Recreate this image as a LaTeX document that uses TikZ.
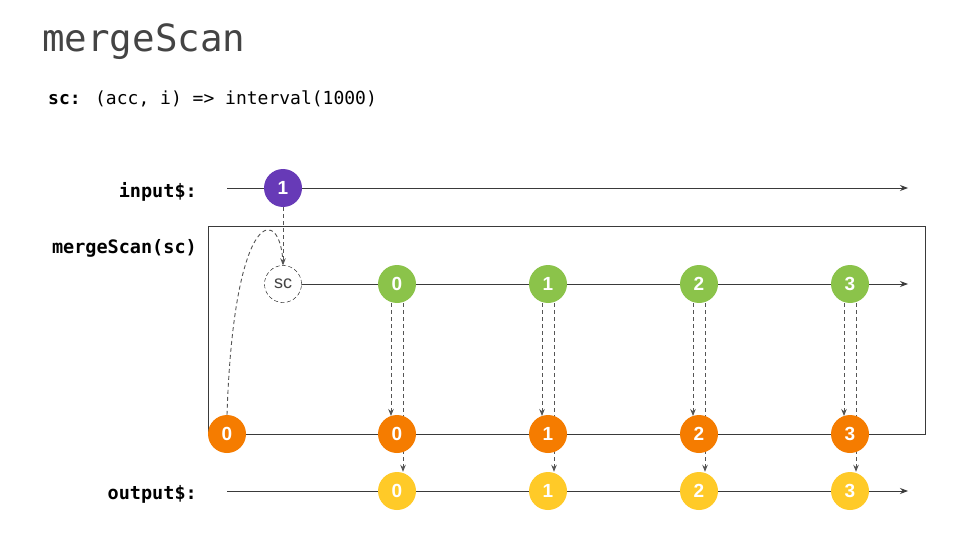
\documentclass[tikz,border=0pt]{standalone}
\usepackage{fontspec}
\setmainfont{Liberation Sans}
\newfontfamily\monof{DejaVu Sans Mono}
\usetikzlibrary{arrows.meta}
\definecolor{linec}{HTML}{3A3A3A}
\definecolor{titlec}{HTML}{444444}
\definecolor{purplem}{HTML}{673AB7}
\definecolor{greenm}{HTML}{8BC34A}
\definecolor{orangem}{HTML}{F57C00}
\definecolor{yellowm}{HTML}{FFCA28}
\definecolor{dashc}{HTML}{555555}
\tikzset{
  marble/.style={circle, minimum size=38pt, inner sep=0pt, text=white,
    font=\bfseries\fontsize{19}{19}\selectfont},
  pm/.style={marble, fill=purplem},
  gm/.style={marble, fill=greenm},
  om/.style={marble, fill=orangem},
  ym/.style={marble, fill=yellowm},
  scnode/.style={circle, draw=black, dashed, dash pattern=on 4pt off 2.5pt, fill=white,
    minimum size=37pt, inner sep=0pt, text=titlec, font=\fontsize{18}{18}\selectfont},
  tl/.style={draw=linec, line width=1pt},
  tlarrow/.style={tl, -{Stealth[length=8pt,width=6pt]}},
  dl/.style={draw=dashc, line width=0.9pt, dash pattern=on 4pt off 3pt},
  dlarrow/.style={dl, -{Stealth[length=7pt,width=5.5pt]}},
  lbl/.style={anchor=base east, inner sep=0pt, text=black,
    font=\monof\bfseries\fontsize{18.5}{18.5}\selectfont}
}
\begin{document}
\begin{tikzpicture}[x=1pt,y=-1pt]
\useasboundingbox[fill=white] (0,0) rectangle (960,540);

\node[anchor=base west, inner sep=0pt, text=titlec, font=\monof\fontsize{37.5}{37.5}\selectfont] (title) at (42,52) {mergeScan};
\node[anchor=base west, inner sep=0pt, text=black, font=\monof\fontsize{18}{18}\selectfont] (code) at (48,105) {\textbf{sc:} (acc, i) => interval(1000)};

\node[lbl] (linput) at (197,197) {input\$:};
\node[lbl] (lmerge) at (197,253) {mergeScan(sc)};
\node[lbl] (loutput) at (197,499) {output\$:};

% box
\draw[tl] (208,226) rectangle (925,434);

% coordinates for line ends
\coordinate (inS) at (227,188);
\coordinate (inE) at (908,188);
\coordinate (midE) at (908,284);
\coordinate (botE) at (925,434);
\coordinate (outS) at (227,491);
\coordinate (outE) at (908,491);

% input line
\draw[tlarrow] (inS) -- (inE);
% inner line
\draw[tlarrow] (283,284) -- (midE);
% bottom line
\draw[tl] (227,434) -- (botE);
% output line
\draw[tlarrow] (outS) -- (outE);

% nodes
\node[pm] (p1) at (283,188) {1};
\node[scnode] (sc) at (283,284) {sc};
\foreach \i/\x in {0/397,1/548,2/699,3/850}{
  \node[gm] (g\i) at (\x,284) {\i};
  \node[ym] (y\i) at (\x,491) {\i};
}

% dashed connectors
\draw[dlarrow] (p1) -- (sc);
\foreach \i/\x in {0/397,1/548,2/699,3/850}{
  \draw[dlarrow] ([xshift=-6pt]g\i.south) -- ([xshift=-6pt]\x,416);
  \draw[dlarrow] ([xshift=6pt]g\i.south) -- ([xshift=6pt]y\i.north);
}

% orange marbles on top
\node[om] (o0) at (227,434) {0};
\foreach \i/\x in {0/397,1/548,2/699,3/850}{
  \node[om] (o\i x) at (\x,434) {\i};
}

% feedback curve
\draw[dl] (o0.north) .. controls (234,202) and (282,205) .. (sc.north);
\end{tikzpicture}
\end{document}
